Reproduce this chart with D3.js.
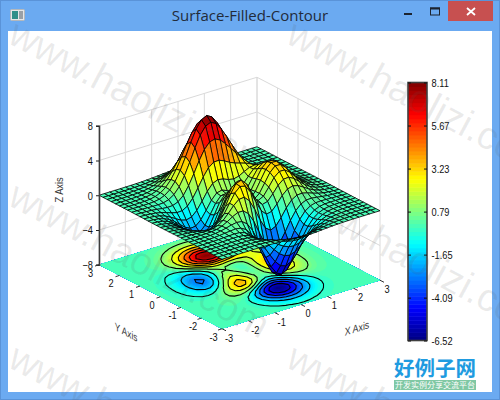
<!DOCTYPE html>
<html>
<head>
<meta charset="utf-8">
<title>Surface-Filled-Contour</title>
<script src="https://cdn.jsdelivr.net/npm/d3@7/dist/d3.min.js"></script>
<style>
html,body{margin:0;padding:0;background:#fff;overflow:hidden}
svg{display:block}
text{font-family:"Liberation Sans",Arial,sans-serif}
</style>
</head>
<body>
<svg id="chart" width="500" height="400"></svg>
<script>
// Axis sample positions of the surface grid (rows run along Y, columns along X).
const xSamples = d3.range(31).map(i => -3 + i * 0.2);
const ySamples = d3.range(31).map(i => -3 + i * 0.2);

// Surface heights, one row per Y sample from -3 to 3.
const zRows = [
[0,0,0,0,0,0,.01,.01,0,-.01,-.03,-.06,-.11,-.16,-.2,-.24,-.25,-.23,-.2,-.15,-.11,-.07,-.04,-.02,-.01,0,0,0,0,0,0],
[0,0,0,0,0,.01,.01,.01,0,-.03,-.08,-.15,-.26,-.38,-.48,-.55,-.57,-.54,-.45,-.35,-.25,-.16,-.09,-.05,-.02,-.01,0,0,0,0,0],
[0,0,0,0,.01,.01,.01,.01,-.01,-.07,-.17,-.33,-.55,-.79,-1,-1.15,-1.18,-1.1,-.93,-.72,-.5,-.32,-.18,-.1,-.05,-.02,-.01,0,0,0,0],
[0,0,0,.01,.01,.02,.02,.02,-.02,-.12,-.31,-.61,-1,-1.43,-1.82,-2.09,-2.15,-2.01,-1.7,-1.31,-.91,-.58,-.33,-.17,-.08,-.03,-.01,0,0,0,0],
[0,0,0,.01,.02,.03,.04,.03,-.03,-.18,-.48,-.95,-1.58,-2.28,-2.93,-3.36,-3.48,-3.25,-2.76,-2.12,-1.47,-.93,-.53,-.27,-.13,-.05,-.02,-.01,0,0,0],
[0,0,.01,.01,.03,.05,.07,.07,0,-.19,-.59,-1.24,-2.13,-3.15,-4.1,-4.75,-4.95,-4.65,-3.95,-3.03,-2.1,-1.31,-.74,-.37,-.16,-.06,-.02,0,0,0,0],
[0,0,.01,.02,.03,.07,.1,.13,.09,-.09,-.53,-1.29,-2.38,-3.67,-4.92,-5.83,-6.16,-5.83,-4.97,-3.8,-2.61,-1.6,-.87,-.41,-.17,-.05,-.01,0,0,0,0],
[0,0,0,.01,.04,.08,.15,.22,.27,.18,-.16,-.87,-1.99,-3.42,-4.88,-6.02,-6.52,-6.28,-5.37,-4.09,-2.76,-1.63,-.83,-.34,-.1,0,.02,.02,.01,.01,0],
[0,0,0,0,.02,.07,.16,.31,.48,.59,.51,.06,-.86,-2.2,-3.73,-5.04,-5.76,-5.7,-4.91,-3.68,-2.37,-1.28,-.52,-.1,.07,.1,.08,.05,.03,.01,.01],
[0,-.01,-.02,-.02,-.02,.01,.1,.3,.62,1,1.3,1.3,.81,-.23,-1.64,-3.04,-3.98,-4.18,-3.64,-2.61,-1.47,-.54,.06,.32,.35,.27,.18,.1,.05,.02,.01],
[-.01,-.02,-.04,-.07,-.11,-.13,-.08,.12,.53,1.15,1.86,2.38,2.44,1.84,.66,-.72,-1.83,-2.28,-2,-1.2,-.27,.45,.83,.87,.72,.5,.3,.16,.08,.03,.01],
[-.01,-.04,-.08,-.15,-.25,-.36,-.41,-.29,.12,.87,1.88,2.87,3.44,3.29,2.4,1.09,-.09,-.69,-.54,.12,.91,1.47,1.65,1.49,1.14,.75,.44,.23,.11,.05,.02],
[-.02,-.05,-.12,-.23,-.41,-.65,-.86,-.91,-.62,.12,1.28,2.56,3.52,3.74,3.11,1.93,.78,.19,.36,1.05,1.85,2.35,2.4,2.07,1.54,1.01,.59,.31,.15,.06,.02],
[-.03,-.07,-.16,-.32,-.59,-.95,-1.34,-1.6,-1.51,-.9,.26,1.68,2.86,3.34,2.92,1.9,.87,.41,.72,1.57,2.47,3,2.99,2.54,1.88,1.22,.71,.37,.17,.07,.03],
[-.03,-.08,-.19,-.39,-.72,-1.19,-1.74,-2.2,-2.33,-1.88,-.82,.61,1.91,2.55,2.31,1.46,.6,.31,.79,1.8,2.82,3.4,3.37,2.85,2.1,1.37,.79,.41,.19,.08,.03],
[-.04,-.09,-.21,-.43,-.8,-1.33,-1.98,-2.58,-2.86,-2.58,-1.65,-.29,1.02,1.75,1.66,.98,.29,.16,.77,1.87,2.94,3.53,3.5,2.95,2.17,1.41,.82,.43,.2,.08,.03],
[-.04,-.09,-.2,-.42,-.79,-1.34,-2.01,-2.66,-3.03,-2.88,-2.1,-.88,.36,1.1,1.11,.6,.07,.04,.7,1.79,2.82,3.39,3.35,2.82,2.08,1.35,.78,.41,.19,.08,.03],
[-.03,-.08,-.18,-.38,-.72,-1.22,-1.84,-2.46,-2.85,-2.77,-2.14,-1.09,0,.7,.78,.41,.01,.05,.66,1.63,2.53,3.03,2.98,2.51,1.84,1.19,.69,.36,.17,.07,.03],
[-.03,-.07,-.15,-.32,-.59,-1.01,-1.53,-2.04,-2.36,-2.29,-1.74,-.84,.13,.78,.93,.69,.39,.41,.85,1.58,2.25,2.59,2.5,2.08,1.52,.98,.57,.3,.14,.06,.02],
[-.02,-.05,-.11,-.24,-.44,-.75,-1.12,-1.47,-1.64,-1.48,-.92,-.04,.91,1.62,1.89,1.78,1.53,1.41,1.56,1.89,2.18,2.27,2.08,1.68,1.2,.77,.44,.23,.11,.04,.02],
[-.01,-.03,-.08,-.16,-.29,-.48,-.69,-.85,-.82,-.48,.23,1.23,2.31,3.19,3.66,3.69,3.43,3.08,2.81,2.62,2.43,2.17,1.8,1.36,.93,.58,.33,.17,.08,.03,.01],
[-.01,-.02,-.05,-.09,-.16,-.25,-.31,-.28,-.04,.51,1.43,2.63,3.93,5.04,5.73,5.89,5.59,4.99,4.27,3.55,2.86,2.23,1.65,1.15,.74,.44,.24,.12,.05,.02,.01],
[0,-.01,-.02,-.04,-.06,-.07,-.03,.15,.55,1.26,2.34,3.71,5.17,6.46,7.31,7.57,7.23,6.43,5.38,4.26,3.2,2.29,1.56,1,.6,.33,.17,.08,.04,.01,.01],
[0,0,-.01,-.01,0,.03,.14,.39,.85,1.63,2.73,4.11,5.59,6.91,7.8,8.11,7.76,6.89,5.71,4.42,3.21,2.19,1.41,.85,.48,.26,.13,.06,.03,.01,0],
[0,0,0,.01,.02,.08,.2,.45,.9,1.61,2.6,3.82,5.13,6.31,7.12,7.4,7.1,6.3,5.19,3.98,2.84,1.89,1.18,.69,.37,.19,.09,.04,.02,.01,0],
[0,0,0,.01,.03,.08,.19,.4,.76,1.32,2.09,3.05,4.07,4.99,5.63,5.85,5.62,4.99,4.1,3.12,2.21,1.45,.89,.51,.27,.13,.06,.03,.01,0,0],
[0,0,0,.01,.03,.06,.14,.29,.54,.93,1.47,2.13,2.83,3.47,3.91,4.07,3.91,3.47,2.85,2.16,1.52,.99,.6,.34,.18,.09,.04,.02,.01,0,0],
[0,0,0,.01,.02,.04,.09,.18,.34,.58,.91,1.32,1.75,2.14,2.41,2.51,2.41,2.14,1.75,1.33,.93,.6,.36,.2,.1,.05,.02,.01,0,0,0],
[0,0,0,0,.01,.02,.05,.1,.19,.32,.5,.72,.96,1.17,1.32,1.38,1.32,1.17,.96,.73,.51,.33,.2,.11,.06,.03,.01,0,0,0,0],
[0,0,0,0,0,.01,.03,.05,.09,.16,.25,.35,.47,.57,.64,.67,.64,.57,.47,.35,.25,.16,.1,.05,.03,.01,.01,0,0,0,0],
[0,0,0,0,0,.01,.01,.02,.04,.07,.11,.15,.2,.25,.28,.29,.28,.25,.2,.15,.11,.07,.04,.02,.01,.01,0,0,0,0,0]
];

// Tick values and contour levels.
const xyTicks = [-3, -2, -1, 0, 1, 2, 3];
const zTicks = [-8, -4, 0, 4, 8];
const barTicks = [-6.52, -4.09, -1.65, 0.79, 3.23, 5.67, 8.11];
const contourLevels = [-5.3, -4.08, -2.86, -1.65, -0.43, 0.79, 2.01, 3.23, 4.45, 5.67, 6.89];

const title = "Surface-Filled-Contour";
const axisTitles = { x: "X Axis", y: "Y Axis", z: "Z Axis" };
const watermarkText = "www.haolizi.com";
const logoText = "好例子网";
const logoSubText = "开发实例分享交流平台";

const svg = d3.select("#chart");
const NARROW = 0.84;

// --- Oblique 3D projection built from linear scales ---
const cx = 239.5, cy = 272.5;
const xToH = d3.scaleLinear([-3, 3], [-79, 79]);
const xToV = d3.scaleLinear([-3, 3], [24.25, -24.25]);
const yToH = d3.scaleLinear([-3, 3], [61.5, -61.5]);
const yToV = d3.scaleLinear([-3, 3], [32, -32]);
const zToV = d3.scaleLinear([-8, 8], [0, -139]);
const project = (x, y, z) => [cx + xToH(x) + yToH(y), cy + xToV(x) + yToV(y) + zToV(z)];
const pathOf = pts => "M" + pts.map(p => p.join(",")).join("L") + "Z";

// --- Jet colour ramp, 64 bands between the data extremes ---
const zMin = d3.min(zRows.flat());
const zMax = d3.max(zRows.flat());
const BANDS = 64;
function jet(t) {
  const c = v => Math.round(255 * Math.max(0, Math.min(1, 1.5 - Math.abs(v))));
  return `rgb(${c(4 * t - 3)},${c(4 * t - 2)},${c(4 * t - 1)})`;
}
const bandOf = d3.scaleQuantize([zMin, zMax], d3.range(BANDS));
const bandColor = d3.range(BANDS).map(i => jet((i + 0.5) / BANDS));
const colorOf = v => bandColor[bandOf(v)];

// --- Window frame ---
const frameBlue = "#6baaf1";
svg.append("rect").attr("width", 500).attr("height", 400).attr("fill", frameBlue);
svg.append("rect").attr("x", 0.5).attr("y", 0.5).attr("width", 499).attr("height", 399)
  .attr("fill", "none").attr("stroke", "#5a93d8");
svg.append("rect").attr("x", 8).attr("y", 31).attr("width", 484).attr("height", 361).attr("fill", "#fff");

const icon = svg.append("g");
icon.append("rect").attr("x", 10.5).attr("y", 9.5).attr("width", 14).attr("height", 11).attr("rx", 1)
  .attr("fill", "#e4e6e8").attr("stroke", "#b4b8bc");
icon.append("rect").attr("x", 12).attr("y", 11).attr("width", 6).attr("height", 8).attr("fill", "#2f8f8a");
icon.append("rect").attr("x", 19).attr("y", 11).attr("width", 4).attr("height", 8).attr("fill", "#9aa0a6");

svg.append("text").attr("x", 250).attr("y", 21).attr("text-anchor", "middle")
  .attr("font-size", 15).attr("fill", "#222b3a").style("font-family", "'Open Sans',sans-serif").text(title);

svg.append("rect").attr("x", 404).attr("y", 13).attr("width", 8).attr("height", 2).attr("fill", "#1c2430");
svg.append("rect").attr("x", 430.5).attr("y", 8).attr("width", 9).attr("height", 7)
  .attr("fill", "none").attr("stroke", "#1c2430").attr("stroke-width", 1);
svg.append("rect").attr("x", 430).attr("y", 7.5).attr("width", 10).attr("height", 2).attr("fill", "#1c2430");
svg.append("rect").attr("x", 448).attr("y", 1).attr("width", 45).attr("height", 20).attr("fill", "#c75050");
svg.append("path").attr("d", "M467 8L475 15M475 8L467 15").attr("stroke", "#fff").attr("stroke-width", 1.8).attr("fill", "none");

const plot = svg.append("g");

// --- Back walls ---
const wallStroke = "#dadada";
const walls = plot.append("g").attr("stroke", wallStroke).attr("stroke-width", 1).attr("fill", "none");
const segment = (a, b) => walls.append("line").attr("x1", a[0]).attr("y1", a[1]).attr("x2", b[0]).attr("y2", b[1]);
xyTicks.forEach(t => {
  segment(project(t, 3, -8), project(t, 3, 8));
  segment(project(3, t, -8), project(3, t, 8));
});
zTicks.forEach(z => {
  segment(project(-3, 3, z), project(3, 3, z));
  segment(project(3, 3, z), project(3, -3, z));
});

// --- Floor: filled contours and their outlines, clipped to the base square ---
const floorCorners = [project(-3, -3, -8), project(3, -3, -8), project(3, 3, -8), project(-3, 3, -8)];
svg.append("defs").append("clipPath").attr("id", "floorClip").append("path").attr("d", pathOf(floorCorners));

const colToX = d3.scaleLinear([0.5, 30.5], [-3, 3]);
const rowToY = d3.scaleLinear([0.5, 30.5], [-3, 3]);
const floorPath = d3.geoPath(d3.geoTransform({
  point(u, v) {
    const p = project(colToX(u), rowToY(v), -8);
    this.stream.point(p[0], p[1]);
  }
}));
const flat = zRows.flat();
const fillLevels = d3.range(BANDS).map(i => zMin + i * (zMax - zMin) / BANDS);
const contourGen = d3.contours().size([31, 31]).smooth(true);
const floor = plot.append("g").attr("clip-path", "url(#floorClip)");
floor.append("path").attr("d", pathOf(floorCorners)).attr("fill", bandColor[0]);
floor.selectAll("path.band")
  .data(contourGen.thresholds(fillLevels)(flat))
  .join("path").attr("class", "band")
  .attr("d", floorPath)
  .attr("fill", (d, i) => bandColor[i]);
floor.selectAll("path.iso")
  .data(contourGen.thresholds(contourLevels)(flat))
  .join("path").attr("class", "iso")
  .attr("d", floorPath)
  .attr("fill", "none").attr("stroke", "#000").attr("stroke-width", 1.1);

// --- Surface mesh, painted from the far corner to the near corner ---
const cells = [];
for (let j = 29; j >= 0; j--) {
  for (let i = 29; i >= 0; i--) {
    const corners = [[i, j], [i + 1, j], [i + 1, j + 1], [i, j + 1]];
    const heights = corners.map(([a, b]) => zRows[b][a]);
    cells.push({
      d: pathOf(corners.map(([a, b]) => project(xSamples[a], ySamples[b], zRows[b][a]))),
      z: d3.mean(heights)
    });
  }
}
plot.append("g").selectAll("path").data(cells).join("path")
  .attr("d", d => d.d)
  .attr("fill", d => colorOf(d.z))
  .attr("stroke", "#000").attr("stroke-width", 0.8).attr("stroke-linejoin", "round");

// --- Z axis on the left wall edge ---
const labelFill = "#111";
const zAxisScale = d3.scaleLinear([-8, 8], [project(-3, 3, -8)[1], project(-3, 3, 8)[1]]);
const zAxis = plot.append("g").attr("transform", `translate(${project(-3, 3, 0)[0]},0)`)
  .call(d3.axisLeft(zAxisScale).tickValues(zTicks).tickSizeOuter(0).tickSize(3));
zAxis.select(".domain").attr("stroke", "#3c3c3c").attr("stroke-width", 1.6);
zAxis.selectAll(".tick line").attr("stroke", "#222");
zAxis.selectAll(".tick text").attr("font-size", 11).attr("fill", labelFill)
  .style("font-family", "'Liberation Sans',sans-serif")
  .attr("x", 0).attr("dy", "0.36em").attr("text-anchor", "end")
  .attr("transform", `translate(-6,0) scale(${NARROW},1)`);

// --- Ticks and labels along the two floor edges ---
const axisTicks = plot.append("g");
const drawTick = (a, dx, dy) => axisTicks.append("line")
  .attr("x1", a[0]).attr("y1", a[1]).attr("x2", a[0] + dx).attr("y2", a[1] + dy)
  .attr("stroke", "#333").attr("stroke-width", 1);
const drawLabel = (px, py, s) => axisTicks.append("text")
  .attr("transform", `translate(${px},${py}) scale(${NARROW},1)`)
  .attr("text-anchor", "middle").attr("dy", "0.36em").attr("font-size", 11).attr("fill", labelFill).text(s);
xyTicks.forEach(t => {
  const onX = project(t, -3, -8);
  drawTick(onX, 4, 2);
  drawLabel(onX[0] + 7, onX[1] + 9, t);
  const onY = project(-3, t, -8);
  drawTick(onY, -4, 1.3);
  drawLabel(onY[0] - 8.5, onY[1] + 8, t);
});

// Axis titles follow the edge direction with upright stems.
const titleFill = "#3a3a3a";
function skewTitle(str, px, py, ax, ay) {
  const n = Math.hypot(ax, ay);
  plot.append("text").attr("text-anchor", "middle").attr("font-size", 11).attr("fill", titleFill)
    .attr("transform", `matrix(${ax / n * NARROW},${ay / n * NARROW},0,1,${px},${py})`).text(str);
}
skewTitle(axisTitles.x, 357, 332, 158, -48.5);
skewTitle(axisTitles.y, 126, 336, 123, 64);
plot.append("text").attr("text-anchor", "middle").attr("font-size", 11).attr("fill", titleFill)
  .attr("transform", `translate(63,190) rotate(-90) scale(${NARROW},1)`).text(axisTitles.z);

// --- Colour bar ---
const barX = 408, barW = 19, barTop = 82.5, barBottom = 340.5;
const barScale = d3.scaleLinear([zMin, zMax], [barBottom, barTop]);
const bar = plot.append("g");
bar.selectAll("rect").data(d3.range(BANDS)).join("rect")
  .attr("x", barX).attr("width", barW)
  .attr("y", i => barTop + (BANDS - 1 - i) * (barBottom - barTop) / BANDS)
  .attr("height", (barBottom - barTop) / BANDS + 0.5)
  .attr("fill", i => bandColor[i]);
bar.append("rect").attr("x", barX).attr("y", barTop).attr("width", barW).attr("height", barBottom - barTop)
  .attr("fill", "none").attr("stroke", "#3f3f3f").attr("stroke-width", 1.6);
bar.append("g").attr("transform", `translate(${barX + barW},0)`)
  .call(d3.axisRight(barScale).tickValues(barTicks).tickFormat(d => d.toFixed(2)).tickSizeOuter(0).tickSizeInner(-3))
  .call(g => g.select(".domain").remove())
  .call(g => g.selectAll(".tick line").attr("stroke", "#111"))
  .call(g => g.selectAll(".tick text").attr("font-size", 11).attr("fill", labelFill)
    .style("font-family", "'Liberation Sans',sans-serif")
    .attr("x", 0).attr("dy", "0.36em").attr("text-anchor", "start")
    .attr("transform", `translate(4.5,0) scale(${NARROW},1)`));
bar.append("g").attr("transform", `translate(${barX},0)`)
  .call(d3.axisRight(barScale).tickValues(barTicks).tickFormat("").tickSizeOuter(0).tickSizeInner(3))
  .call(g => g.select(".domain").remove())
  .call(g => g.selectAll(".tick line").attr("stroke", "#111"));

// --- Tiled site mark ---
const marks = svg.append("g").attr("pointer-events", "none");
d3.range(0, 3).forEach(r => d3.range(0, 2).forEach(c => {
  marks.append("text")
    .attr("transform", `translate(${6 + c * 278},${42 + r * 162}) rotate(28)`)
    .attr("font-size", 39).attr("fill", "rgba(90,90,90,0.12)").text(watermarkText);
}));

// --- Corner logo ---
const cjk = "'Noto Sans CJK SC',sans-serif";
svg.append("text").attr("x", 435).attr("y", 376).attr("text-anchor", "middle")
  .attr("font-size", 20.5).attr("font-weight", 700).attr("fill", "#1f9be0")
  .style("font-family", cjk).text(logoText);
svg.append("rect").attr("x", 394).attr("y", 380).attr("width", 82).attr("height", 10).attr("fill", "#80c8a4");
svg.append("text").attr("x", 435).attr("y", 388.3).attr("text-anchor", "middle")
  .attr("font-size", 8).attr("fill", "#fff").style("font-family", cjk).text(logoSubText);
</script>
</body>
</html>
